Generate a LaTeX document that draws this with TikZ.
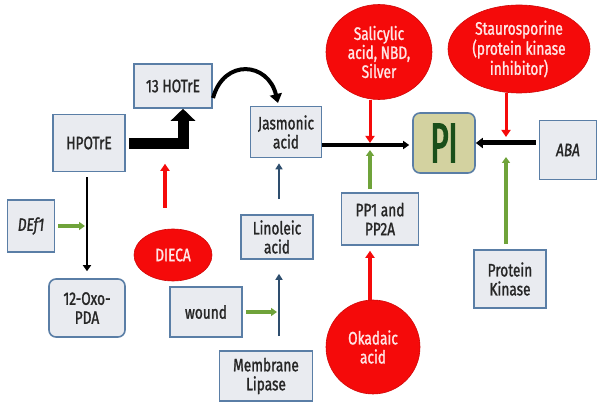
\documentclass[tikz,border=0pt]{standalone}
\usepackage{fontspec}
\setmainfont{Fira Sans}[FakeStretch=0.76,FakeBold=1.3,ItalicFeatures={FakeSlant=0}]
\newfontfamily\pifont{Fira Sans}[FakeStretch=0.55,FakeBold=2.5]
\usetikzlibrary{arrows.meta,shapes.geometric}
\definecolor{boxblue}{HTML}{5A7EA6}
\definecolor{boxgray}{HTML}{E9EBF0}
\definecolor{inred}{HTML}{F50A0A}
\definecolor{grn}{HTML}{6FA33A}
\definecolor{blu}{HTML}{2E4E6E}
\definecolor{pifill}{HTML}{D3D2A0}
\definecolor{pitext}{HTML}{1A4F1A}
\definecolor{txtpink}{HTML}{FFE6E6}
\begin{document}
\begin{tikzpicture}[x=1pt,y=-1pt,
  every node/.style={font=\fontsize{18}{19}\selectfont,text=black!85},
  bx/.style={draw=boxblue,fill=boxgray,line width=1.6pt,align=center,inner sep=1pt},
  rbx/.style={bx,rounded corners=7pt},
  inh/.style={ellipse,fill=inred,draw=inred!85!black,line width=0.6pt,align=center,inner sep=0pt,text=txtpink},
  redarr/.style={draw=inred,line width=3pt,-{Triangle[width=9pt,length=7pt]}},
  grnarr/.style={draw=grn,line width=3.2pt,-{Triangle[width=8pt,length=6pt]}},
  bluarr/.style={draw=blu,line width=2.6pt,-{Triangle[width=7pt,length=6pt]}},
  blkarr/.style={draw=black,line width=2.8pt,-{Triangle[width=8pt,length=6pt]}}]
\useasboundingbox (0,0) rectangle (603,403);

% nodes
\node[bx,minimum width=78pt,minimum height=44pt] (hotre) at (173,86) {13 HOTrE};
\node[bx,minimum width=72pt,minimum height=57pt] (hpotre) at (89,143) {HPOTrE};
\node[bx,minimum width=71pt,minimum height=51pt] (jas) at (286,132) {Jasmonic\\acid};
\node[bx,minimum width=47pt,minimum height=52pt] (def) at (31,226) {\itshape DEf1};
\node[rbx,minimum width=76pt,minimum height=58pt] (oxo) at (87,308) {12-Oxo-\\PDA};
\node[inh,minimum width=78pt,minimum height=52pt] (dieca) at (173,255) {DIECA};
\node[bx,minimum width=72pt,minimum height=44pt] (lin) at (277,237) {Linoleic\\acid};
\node[bx,minimum width=72pt,minimum height=50pt] (wound) at (206,312) {wound};
\node[bx,minimum width=93pt,minimum height=50pt] (mem) at (266,376) {Membrane\\Lipase};
\node[bx,minimum width=77pt,minimum height=52pt] (pp) at (380,219) {PP1 and\\PP2A};
\node[rbx,fill=pifill,minimum width=62pt,minimum height=60pt,font=\pifont\fontsize{56}{56}\selectfont,text=pitext] (pi) at (444,143) {PI};
\node[bx,minimum width=57pt,minimum height=59pt] (aba) at (568,150) {\itshape ABA};
\node[bx,minimum width=72pt,minimum height=58pt] (pk) at (510,279) {Protein\\Kinase};
\node[inh,minimum width=106pt,minimum height=95pt] (sal) at (379,52) {Salicylic\\acid, NBD,\\Silver};
\node[inh,minimum width=142pt,minimum height=88pt] (stau) at (519,49) {Staurosporine\\(protein kinase\\inhibitor)};
\node[inh,minimum width=94pt,minimum height=94pt] (oka) at (373,347) {Okadaic\\acid};

% junction coordinates
\coordinate (k1) at (183,144);
\coordinate (j1) at (87,226);
\coordinate (j2) at (279,312);
\coordinate (j3) at (370,145);
\coordinate (j4) at (506,143);
\coordinate (c1) at (213,98);
\coordinate (c2) at (278,103);

% connectors
\draw[line width=11pt,miter limit=10,-{Triangle[width=24pt,length=12pt]}]
  ([xshift=3pt]hpotre.east |- k1) -- (k1) -- (k1 |- hotre.south);
\draw[line width=4pt,-{Triangle[width=12pt,length=9pt]}]
  (c1) .. controls (224,58) and (268,62) .. (c2);
\draw[blkarr,shorten <=5pt,shorten >=7pt] (hpotre.south -| j1) -- (oxo.north -| j1);
\draw[grnarr,shorten <=3pt,shorten >=2pt] (def.east |- j1) -- (j1);
\draw[redarr,line width=3.5pt,shorten <=21pt,shorten >=55pt] (dieca.north -| 165,0) -- (hotre.south -| 165,0);
\draw[bluarr,shorten <=15pt,shorten >=5pt] (lin.north -| j2) -- (jas.south -| j2);
\draw[bluarr,shorten <=14pt,shorten >=14pt] (mem.north -| j2) -- (lin.south -| j2);
\draw[grnarr,shorten <=3pt,shorten >=2pt] (wound.east |- j2) -- (j2);
\draw[blkarr,line width=3.2pt,shorten >=3pt] (jas.east |- j3) -- (pi.west |- j3);
\draw[redarr,shorten >=2pt] (sal.south -| j3) -- (j3);
\draw[grnarr,shorten <=3pt,shorten >=5pt] (pp.north -| j3) -- (j3);
\draw[redarr,line width=3.5pt,shorten >=5pt] (oka.north -| j3) -- (pp.south -| j3);
\draw[line width=5pt,-{Triangle[width=10pt,length=7pt]},shorten <=3pt] (aba.west |- pi.east) -- (pi.east);
\draw[redarr,shorten >=6pt] (stau.south -| j4) -- (j4);
\draw[grnarr,shorten <=5pt,shorten >=14pt] (pk.north -| j4) -- (j4);
\end{tikzpicture}
\end{document}
